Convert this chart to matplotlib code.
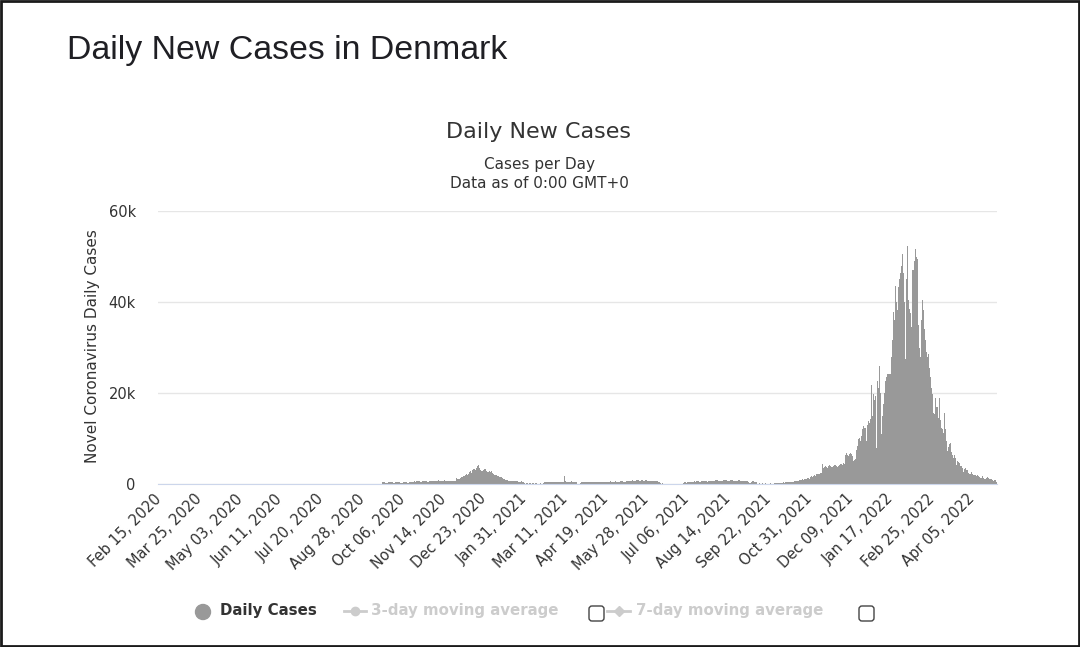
import datetime as dt
import numpy as np
import matplotlib
matplotlib.use("Agg")
import matplotlib.pyplot as plt
from matplotlib.patches import Circle, FancyBboxPatch, Rectangle
from matplotlib.lines import Line2D

plt.rcParams['font.family'] = ['DejaVu Sans']

# ---------------- data: daily new cases, Denmark, from Feb 15 2020 ----------------
start_date = dt.date(2020, 2, 15)

feb2020 = [0, 0, 0, 0, 0, 0, 0, 0, 0, 0, 0, 0, 1, 0, 2]
mar2020 = [0, 2, 1, 5, 2, 6, 4, 10, 15, 40, 50, 45, 30, 35, 30, 25, 35, 30, 40, 35,
           40, 45, 45, 35, 45, 50, 55, 40, 55, 60, 50]
apr2020 = [60, 55, 60, 55, 60, 55, 60, 60, 50, 45, 40, 45, 40, 45, 40, 50, 55, 45, 40, 40,
           50, 45, 55, 40, 40, 35, 35, 40, 40, 35]
may2020 = [50, 45, 30, 50, 40, 45, 50, 45, 35, 30, 25, 30, 35, 40, 45, 30, 20, 25, 30, 30,
           35, 25, 20, 15, 20, 25, 35, 20, 30, 25, 15]
jun2020 = [20, 15, 20, 15, 10, 10, 15, 20, 15, 20, 10, 5, 15, 20, 15, 10, 15, 20, 30, 15,
           15, 10, 20, 25, 30, 40, 25, 20, 15, 10]
jul2020 = [10, 10, 10, 5, 5, 10, 5, 10, 10, 5, 5, 10, 5, 15, 15, 10, 10, 5, 15, 20,
           25, 30, 20, 25, 30, 35, 40, 30, 35, 45, 55]
aug2020 = [60, 60, 55, 50, 45, 55, 60, 55, 45, 40, 50, 55, 45, 40, 35, 30, 30, 35, 45, 55,
           50, 40, 45, 55, 60, 60, 60, 60, 55, 50, 60]
sep2020_early = [55, 50, 55, 60, 55, 50, 55, 60, 55, 55, 60, 55, 55, 50, 55, 60]

autumn2020 = [350, 380, 400, 200, 120, 330, 360, 380, 400, 340, 150, 120, 340, 360, 380, 370, 330, 140,
              110, 300, 350, 370, 380, 330, 150, 130, 400, 420, 450]
oct_nov2020 = [500, 550, 480, 600, 650, 620, 580, 520, 450, 650, 700, 680, 620, 580, 540, 500, 720, 750,
               700, 680, 640, 600, 560, 760, 780, 720, 700, 660, 620, 580, 780, 760, 720, 700, 680, 650,
               620, 700, 720, 680, 660, 640, 1300]
winter_wave = [1200, 1100, 1400, 1500,
               1600, 1800, 1700, 2000, 2100, 1900,
               2300, 2600, 2800, 2500, 3000, 3200,
               3400, 3100, 3600, 3900, 4200, 3500,
               3000, 2900, 3100, 3300, 3200, 2900,
               2700, 2600, 2800, 2700, 2800, 2500,
               2200, 2050, 2000, 1900, 1800, 1700,
               1600, 1500, 1450, 1300, 1200, 1100, 900, 800]
jan_mar2021 = [730, 700, 650, 620, 600, 580, 560, 600, 580, 560, 540, 520, 500, 560, 540, 480,
               300, 0, 250, 320, 0, 280, 0, 300, 260, 0, 240, 280, 0,
               0, 0, 200, 0, 0, 150,
               420, 440, 450, 430, 460, 440, 420, 450, 440, 460, 430, 450, 470, 440, 430, 460, 450, 440, 420,
               1830]
spring2021 = [560, 520, 540, 500, 480, 520, 550, 500, 470, 510, 530, 490,
              100, 0, 150,
              460, 480, 420, 500, 520, 440, 380, 460, 500, 480, 520, 450, 400, 470, 510, 490, 530, 460, 410, 480,
              500, 520, 540, 470, 420, 490, 530, 510, 550, 480, 430, 500, 540, 560, 520, 470, 440, 520, 560, 580,
              600, 540, 500, 580, 620,
              650, 700, 680, 720, 880, 760, 700, 740, 800, 850, 780, 720, 760, 940, 820, 760, 700, 780, 820, 760,
              700, 680, 720, 760, 700, 650, 620, 600, 560, 480, 400, 300]
june2021 = [60, 150, 60, 50, 40, 60, 50, 40, 60, 50, 40, 60, 50, 40, 60, 50, 40, 60, 50, 40, 60]
summer2021 = [200, 380, 420, 300, 450, 480, 500, 520, 460, 400, 540, 560, 520, 580, 600, 480, 420, 600,
              640, 620, 660, 680, 560, 500, 700, 720, 680,
              740, 760, 700, 620, 800, 820, 780, 760, 720, 640, 600, 780, 840, 880, 820, 760, 700, 640,
              800, 860, 780, 740, 700, 620, 580, 760, 820, 800, 740, 680, 600,
              560, 600, 640, 580, 520, 300, 200, 540, 600, 560, 520, 480, 350]
sep2021 = [100, 0, 200, 0, 0, 150, 0, 0, 220, 0, 0, 0, 180, 0, 0, 0, 250]
autumn2021 = [150, 200, 180, 250, 300, 280, 220, 320, 350, 300, 380, 420, 380, 450,
              480, 520, 460, 500, 560, 600, 650, 700, 760, 820, 880,
              950, 1000, 900, 1100, 1150, 1050, 1250, 1300, 1200,
              1500, 1650, 1600, 1800, 1950, 1700, 2100, 2300, 2200, 2400, 2500,
              4400,
              3600, 3800, 3900, 3700, 3600, 4000, 4100, 3900, 3800, 3700, 4000, 4200, 4100, 3900, 3800, 4000,
              4100, 4300, 4200, 4600,
              4300, 6400,
              6800, 6300, 6100, 6600, 6900, 6500, 6200,
              5000, 5200, 5600, 7500,
              8300,
              9800, 10200, 9500, 10600,
              12000, 12700, 12400,
              9400,
              13000, 13800, 13500, 14200,
              21800,
              15000, 19800, 18500, 19400,
              7900,
              22700, 21000,
              26000,
              20000,
              11000,
              15000, 17500, 20000, 22700, 23500, 24200, 24200]
omicron2022 = [24200, 28000, 31600, 37900, 36000, 43600, 40000, 38300, 43400, 45000,
               46400, 48000, 50500, 46400, 40000, 27500, 45000, 52200, 40500, 38500,
               37500, 34600, 47100, 49000, 51700, 50000, 49400, 34900, 30000, 27900,
               36000, 40500, 38300, 34000, 31600, 29000, 27900, 28600, 25500, 23500,
               21000, 19800, 15700, 15300, 19000, 17000, 14600, 19000, 14000, 12400,
               12000, 11200, 15700, 12000, 9400, 7200, 8200, 8700, 9000, 7000,
               6400, 5700, 6400, 5800, 4200, 5000, 4800, 4600, 4000, 3500,
               2700, 3300, 3600, 3100, 3000, 2400, 2200, 2100, 2700, 2300,
               2000, 2000, 1900, 1800, 2000, 1700, 1500, 1300, 1250, 1850,
               1300, 1100, 1400, 1600, 1400, 1200, 1100, 1000, 900, 700,
               850, 900, 400]

daily_cases = (feb2020 + mar2020 + apr2020 + may2020 + jun2020 + jul2020 + aug2020 + sep2020_early
               + autumn2020 + oct_nov2020 + winter_wave + jan_mar2021 + spring2021 + june2021
               + summer2021 + sep2021 + autumn2021 + omicron2022)

n_days = len(daily_cases)
dates = [start_date + dt.timedelta(days=i) for i in range(n_days)]
date_labels = [d.strftime('%b %d, %Y') for d in dates]
tick_step = 39
y_ticks = [0, 20000, 40000, 60000]
y_tick_labels = ['0', '20k', '40k', '60k']

# ---------------- figure ----------------
W, H = 1080, 647
fig = plt.figure(figsize=(W / 100, H / 100), dpi=100)
fig.patch.set_facecolor('white')

L, R, T, B = 158, 997, 211, 484
ax = fig.add_axes([L / W, 1 - B / H, (R - L) / W, (B - T) / H])
x = np.arange(n_days)
ax.bar(x, daily_cases, width=1.0, color='#999999', linewidth=0, zorder=2)
ax.set_xlim(-0.5, n_days - 0.5)
ax.set_ylim(0, 60000)
ax.set_yticks(y_ticks)
ax.set_yticklabels(y_tick_labels)
ax.grid(axis='y', color='#e6e6e6', linewidth=1, zorder=0)
ax.set_axisbelow(True)
for s in ['top', 'right', 'left']:
    ax.spines[s].set_visible(False)
ax.spines['bottom'].set_color('#ccd6eb')
ax.spines['bottom'].set_zorder(3)
tick_idx = list(range(0, n_days, tick_step))
ax.set_xticks(tick_idx)
ax.set_xticklabels([date_labels[i] for i in tick_idx], rotation=45, ha='right', va='center',
                   rotation_mode='anchor', fontsize=10.5, color='#333333')
ax.tick_params(axis='x', length=0, pad=9)
ax.tick_params(axis='y', length=0, pad=16, labelsize=10.5, labelcolor='#333333')

# overlay in pixel coordinates
ov = fig.add_axes([0, 0, 1, 1])
ov.set_xlim(0, W)
ov.set_ylim(H, 0)
ov.axis('off')
ov.patch.set_alpha(0)

ov.add_patch(Rectangle((1, 1), W - 2, H - 2, fill=False, edgecolor='#1a1a1a', linewidth=2))

ov.text(67, 50, 'Daily New Cases in Denmark', fontsize=24.4, family=['Liberation Sans'],
        color='#1f1f24', ha='left', va='center')
ov.text(539, 132, 'Daily New Cases', fontsize=16, color='#333333', ha='center', va='center')
ov.text(539, 164, 'Cases per Day', fontsize=11, color='#333333', ha='center', va='center')
ov.text(539, 184, 'Data as of 0:00 GMT+0', fontsize=11, color='#333333', ha='center', va='center')
ov.text(92, 346, 'Novel Coronavirus Daily Cases', fontsize=11, color='#333333', rotation=90,
        ha='center', va='center')

# legend
ly = 611
ov.add_patch(Circle((203, ly + 1), 7.5, color='#999999'))
ov.text(220, ly, 'Daily Cases', fontsize=10.8, fontweight='bold', color='#333333', ha='left', va='center')

ov.add_line(Line2D([344, 366], [ly, ly], color='#cccccc', linewidth=2))
ov.plot([355], [ly], marker='o', markersize=6, color='#cccccc')
ov.text(371, ly, '3-day moving average', fontsize=10.8, fontweight='bold', color='#cccccc',
        ha='left', va='center')
ov.add_patch(FancyBboxPatch((589, 606), 15, 15, boxstyle='round,pad=0,rounding_size=3',
                            facecolor='white', edgecolor='#444444', linewidth=1))

ov.add_line(Line2D([607, 630], [ly, ly], color='#cccccc', linewidth=2))
ov.plot([618.5], [ly], marker='D', markersize=5.5, color='#cccccc')
ov.text(636, ly, '7-day moving average', fontsize=10.8, fontweight='bold', color='#cccccc',
        ha='left', va='center')
ov.add_patch(FancyBboxPatch((859, 606), 15, 15, boxstyle='round,pad=0,rounding_size=3',
                            facecolor='white', edgecolor='#444444', linewidth=1))

fig.savefig('out.png', dpi=100, facecolor='white')
